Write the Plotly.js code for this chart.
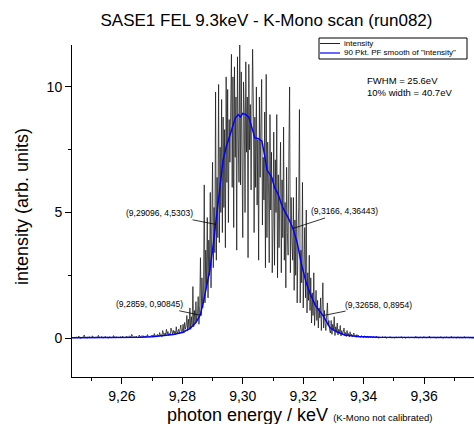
<!DOCTYPE html>
<html>
<head>
<meta charset="utf-8">
<script src="https://cdn.plot.ly/plotly-3.0.1.min.js"></script>
<style>html,body{margin:0;padding:0;background:#fff;}#chart{width:474px;height:424px;}</style>
</head>
<body>
<div id="chart"></div>
<script>
// scan grid of the K-Mono (keV)
var scanStart = 9.2440;
var scanStep = 0.00025;

// measured intensity (arb. units), one value per scan step
var intensity = [
  // 9.2440 - 9.26975
  0.01,0.03,-0.01,0.02,0.05,0.00,0.02,0.08,0.01,-0.02,
  0.03,0.01,0.04,0.00,0.12,0.02,0.01,0.03,-0.01,0.05,
  0.02,0.06,0.00,0.03,0.01,0.09,0.02,0.04,0.00,0.02,
  0.05,0.01,0.03,0.11,0.02,0.04,0.01,0.06,0.03,0.02,
  0.00,0.03,0.07,0.01,0.02,0.04,-0.01,0.03,0.06,0.02,
  0.01,0.04,0.02,0.10,0.03,0.00,0.05,0.02,0.03,0.01,
  0.04,0.02,0.06,0.00,0.03,0.08,0.02,0.01,0.04,0.03,
  0.07,0.03,0.05,0.02,0.09,0.04,0.03,0.15,0.05,0.04,
  0.02,0.06,0.03,0.08,0.04,0.01,0.05,0.12,0.03,0.06,
  0.08,0.06,0.10,0.04,0.07,0.03,0.09,0.05,0.14,0.06,
  0.04,0.08,0.05,0.11,
  // 9.2700 - 9.27975
  0.05,0.12,0.08,0.18,0.06,0.10,0.04,0.15,0.09,0.07,
  0.22,0.09,0.14,0.05,0.30,0.11,0.08,0.20,0.13,0.35,
  0.15,0.26,0.10,0.18,0.12,0.40,0.22,0.16,0.31,0.18,
  0.28,0.14,0.45,0.20,0.25,0.35,0.17,0.30,0.52,0.22,
  // 9.2800 - 9.28575
  0.25,0.55,0.20,0.62,0.35,0.48,0.90,0.30,0.75,0.40,
  1.20,0.35,0.85,0.50,2.05,0.45,1.10,0.60,1.45,0.70,
  0.95,1.65,0.55,1.30,
  // 9.2860 - 9.29175
  3.2,0.9,2.4,1.2,1.8,6.1,1.4,3.5,2.0,4.8,1.6,3.9,
  2.5,5.8,2.0,4.6,7.0,2.8,5.2,3.4,9.8,3.1,6.4,4.0,
  // 9.2920 - 9.29675
  10.1,3.8,7.6,5.0,9.5,4.2,8.8,5.2,8.3,3.6,
  10.4,6.2,9.9,4.6,8.7,7.0,10.8,11.3,6.0,10.4,
  // 9.2970 - 9.30325
  4.4,10.8,7.2,9.6,3.5,11.2,8.0,6.2,11.8,6.1,
  10.6,8.0,4.0,10.2,9.0,5.0,11.0,7.4,9.6,3.2,
  10.9,7.5,9.3,5.9,8.6,11.5,
  // 9.3035 - 9.30975
  9.4,4.2,8.8,6.0,10.0,5.3,7.9,3.1,9.6,6.4,
  8.5,10.3,4.5,7.2,5.5,9.0,2.8,10.5,4.0,7.8,
  6.2,3.0,8.9,5.1,7.4,2.6,
  // 9.3100 - 9.31625
  4.5,8.2,2.9,7.1,5.0,8.9,2.4,6.5,3.6,5.9,
  7.8,2.6,6.3,4.0,8.4,3.1,5.4,2.0,6.8,4.2,
  3.3,7.5,10.0,2.6,5.6,3.9,
  // 9.3165 - 9.32225
  3.1,5.6,1.9,4.7,2.5,6.4,1.4,3.8,5.2,9.1,
  1.4,3.5,2.2,6.2,1.2,2.8,4.4,1.6,5.1,1.0,
  2.6,1.5,3.3,1.1,
  // 9.3225 - 9.32875
  2.4,0.6,1.8,0.9,2.6,0.5,1.3,1.9,0.7,1.5,
  0.4,1.2,0.8,1.6,0.3,1.0,2.2,0.4,1.1,0.6,
  0.3,0.9,1.4,0.5,0.7,0.3,
  // 9.3290 - 9.33775
  0.20,0.70,0.15,0.55,0.30,0.85,0.10,0.45,0.25,0.60,
  0.12,0.35,0.20,0.50,0.08,0.30,0.15,0.25,0.40,0.10,
  0.22,0.06,0.30,0.12,0.18,0.05,0.25,0.10,0.15,0.04,
  0.12,0.20,0.06,0.10,0.03,0.14,
  // 9.3380 - 9.3765
  0.05,0.12,0.03,0.08,0.02,0.10,0.04,0.06,0.01,0.09,
  0.03,0.05,0.02,0.07,0.00,0.04,0.08,0.02,0.05,0.01,
  0.03,0.06,0.00,0.04,0.02,0.07,0.01,0.03,-0.01,0.05,
  0.02,0.04,0.00,0.06,0.02,0.03,0.01,0.05,-0.01,0.02,
  0.04,0.00,0.03,0.06,0.01,0.02,0.00,0.04,0.02,-0.01,
  0.03,0.05,0.01,0.02,0.00,0.04,0.01,0.03,0.06,0.00,
  0.02,0.01,0.04,-0.01,0.02,0.03,0.00,0.05,0.01,0.02,
  0.00,0.03,0.01,0.04,0.02,0.00,0.03,0.07,0.01,0.02,
  0.04,-0.01,0.02,0.05,0.00,0.03,0.01,0.02,0.06,0.01,
  0.03,0.00,0.02,0.04,0.01,0.08,0.02,0.00,0.03,0.01,
  0.02,0.05,0.00,0.03,-0.01,0.02,0.04,0.01,0.03,0.00,
  0.06,0.02,0.01,0.03,0.00,0.04,0.02,0.05,0.01,0.02,
  0.00,0.03,0.01,0.02,0.07,0.00,0.03,0.01,0.04,0.02,
  0.01,0.00,0.03,0.05,0.02,0.01,0.04,0.00,0.02,0.03,
  0.01,0.06,0.02,0.00,0.03,0.01,0.02,0.04,0.00,0.02,
  0.03,0.01,0.00,0.02,0.01
];

// 90 Pkt. PF smooth of "intensity"
var smoothX = [9.2435,9.2550,9.2620,9.2660,9.2700,9.2735,9.2770,9.2800,9.2825,9.2845,
  9.2859,9.2870,9.2880,9.2891,9.2901,9.29096,9.2915,9.2925,9.2935,9.2945,
  9.2955,9.2965,9.2975,9.2985,9.2992,9.3000,9.3010,9.3020,9.3030,9.3040,
  9.3050,9.3063,9.3072,9.3080,9.3096,9.3105,9.3116,9.3132,9.3150,9.3166,
  9.3180,9.3195,9.3210,9.3222,9.3240,9.32658,9.3288,9.3310,9.3337,9.3380,
  9.3450,9.3550,9.3765];
var smoothY = [0.01,0.01,0.02,0.03,0.05,0.09,0.14,0.22,0.38,0.62,
  0.908,1.45,2.0,2.7,3.6,4.53,5.0,6.0,7.1,7.6,
  8.0,8.4,8.75,8.9,8.8,8.95,8.9,8.8,8.4,7.97,
  7.95,7.85,7.3,6.7,6.4,6.0,5.75,5.2,4.8,4.364,
  3.8,2.9,2.2,1.8,1.3,0.895,0.42,0.25,0.12,0.06,
  0.03,0.02,0.02];

// marked points: 10% and half maximum on both flanks
var markX = [9.2859, 9.29096, 9.3166, 9.32658];
var markY = [0.90845, 4.5303, 4.36443, 0.8954];

// axis ticks
var xTicks = [9.26, 9.28, 9.30, 9.32, 9.34, 9.36];
var yTicks = [0, 5, 10];

var rawX = intensity.map(function(_, i){ return +(scanStart + i*scanStep).toFixed(5); });

var FONT = 'Liberation Sans, Arial, sans-serif';
function comma(v){ return String(v).replace('.', ','); }

var annOffsets = [[-51,-11],[-56,-11],[52,-17],[55,-11]];
var annotations = markX.map(function(x, i){
  return {
    x: x, y: markY[i], xref: 'x', yref: 'y',
    text: '(' + comma(x) + ', ' + comma(markY[i]) + ')',
    showarrow: true, arrowhead: 0, arrowwidth: 0.8, arrowcolor: '#000',
    ax: annOffsets[i][0], ay: annOffsets[i][1], standoff: 0,
    font: {family: FONT, size: 8.5, color: '#000'}
  };
});

var fwhm = ((markX[2] - markX[1]) * 1000).toFixed(1);
var w10 = ((markX[3] - markX[0]) * 1000).toFixed(1);

// pixel -> paper helpers for the figure frame (plot area 72..474 x, 45..377 y)
function px(p){ return (p - 72) / 402; }
function py(p){ return (377 - p) / 332; }

annotations.push({
  xref: 'paper', yref: 'paper', x: px(365), y: py(86), xanchor: 'left', yanchor: 'middle',
  align: 'left', showarrow: false,
  text: 'FWHM = ' + fwhm + 'eV<br>10% width = ' + w10 + 'eV',
  font: {family: FONT, size: 9.5, color: '#000'}
});
// x-axis title
annotations.push({
  xref: 'paper', yref: 'paper', x: px(299.5), y: py(415), xanchor: 'center', yanchor: 'middle',
  showarrow: false,
  text: 'photon energy / keV <span style="font-size:9.5px">(K-Mono not calibrated)</span>',
  font: {family: FONT, size: 18, color: '#000'}
});
// y-axis title
annotations.push({
  xref: 'paper', yref: 'paper', x: px(21.5), y: py(206.5), xanchor: 'center', yanchor: 'middle',
  showarrow: false, textangle: -90,
  text: 'intensity (arb. units)',
  font: {family: FONT, size: 18, color: '#000'}
});
// legend texts
annotations.push({
  xref: 'paper', yref: 'paper', x: px(342), y: py(43.5), xanchor: 'left', yanchor: 'middle',
  showarrow: false, text: 'intensity', font: {family: FONT, size: 8, color: '#000'}
});
annotations.push({
  xref: 'paper', yref: 'paper', x: px(342), y: py(53), xanchor: 'left', yanchor: 'middle',
  showarrow: false, text: '90 Pkt. PF smooth of "intensity"', font: {family: FONT, size: 8, color: '#000'}
});

var shapes = [
  {type: 'rect', xref: 'paper', yref: 'paper', x0: px(319), x1: px(467), y0: py(59), y1: py(38),
   line: {color: '#000', width: 1}, fillcolor: 'rgba(255,255,255,1)', layer: 'above'},
  {type: 'line', xref: 'paper', yref: 'paper', x0: px(320), x1: px(340), y0: py(43.5), y1: py(43.5),
   line: {color: '#222', width: 1}},
  {type: 'line', xref: 'paper', yref: 'paper', x0: px(320), x1: px(340), y0: py(53), y1: py(53),
   line: {color: '#0000ff', width: 1.2}}
];

var traces = [
  {x: rawX, y: intensity, type: 'scatter', mode: 'lines', name: 'intensity',
   line: {color: 'rgb(15,15,15)', width: 0.7}, hoverinfo: 'skip'},
  {x: smoothX, y: smoothY, type: 'scatter', mode: 'lines', name: '90 Pkt. PF smooth of "intensity"',
   line: {color: 'rgb(0,0,255)', width: 1.5}, hoverinfo: 'skip'}
];

var layout = {
  width: 474, height: 424,
  margin: {l: 72, r: 0, t: 45, b: 47, pad: 0},
  paper_bgcolor: '#fff', plot_bgcolor: '#fff',
  separators: ',.',
  showlegend: false,
  font: {family: FONT, color: '#000'},
  title: {
    text: 'SASE1 FEL 9.3keV - K-Mono scan (run082)',
    x: 266.5 / 474, xref: 'container', xanchor: 'center',
    y: 1 - 20 / 424, yref: 'container', yanchor: 'middle',
    font: {family: FONT, size: 17, color: '#000'}
  },
  xaxis: {
    range: [9.2435, 9.3765], tickvals: xTicks, tickformat: '.2f',
    showgrid: false, zeroline: false, showline: true, linecolor: '#000', linewidth: 1,
    ticks: 'outside', ticklen: 6, tickwidth: 1, tickcolor: '#000',
    minor: {dtick: 0.01, tick0: 9.25, ticks: 'outside', ticklen: 3, tickwidth: 1, tickcolor: '#000', showgrid: false},
    tickfont: {family: FONT, size: 14, color: '#000'}
  },
  yaxis: {
    range: [-1.55, 11.67], tickvals: yTicks,
    showgrid: false, zeroline: false, showline: true, linecolor: '#000', linewidth: 1,
    ticks: 'outside', ticklen: 6, tickwidth: 1, tickcolor: '#000',
    minor: {dtick: 2.5, tick0: 0, ticks: 'outside', ticklen: 3, tickwidth: 1, tickcolor: '#000', showgrid: false},
    tickfont: {family: FONT, size: 14, color: '#000'}
  },
  annotations: annotations,
  shapes: shapes
};

Plotly.newPlot('chart', traces, layout, {staticPlot: true, displayModeBar: false});
</script>
</body>
</html>
